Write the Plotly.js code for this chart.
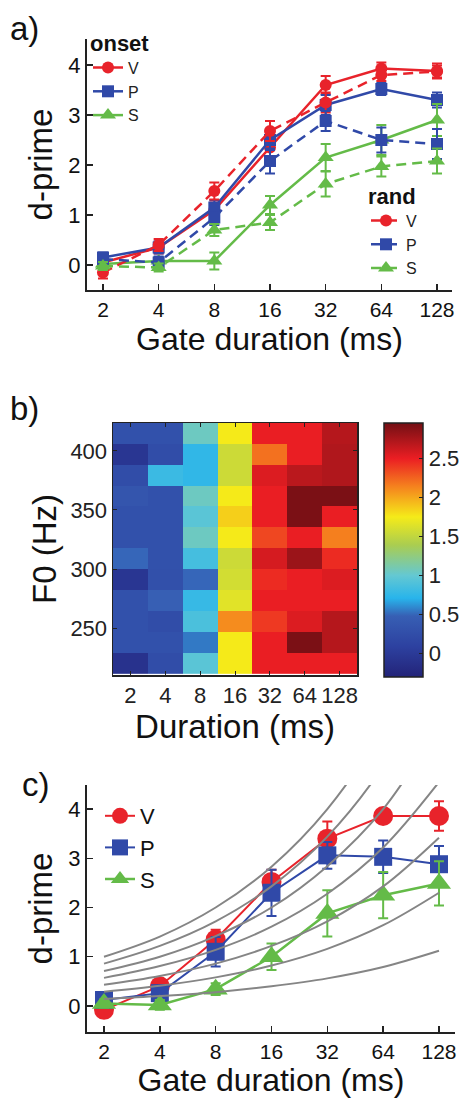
<!DOCTYPE html>
<html>
<head>
<meta charset="utf-8">
<script src="https://cdn.plot.ly/plotly-3.0.1.min.js"></script>
<style>
html,body{margin:0;padding:0;background:#fff;}
#chart{width:461px;height:1098px;}
</style>
</head>
<body>
<div id="chart"></div>
<script>
// ---------- data ----------
const durations = [2, 4, 8, 16, 32, 64, 128];
const durLabels = ['2', '4', '8', '16', '32', '64', '128'];

// panel a) onset / rand
const onsetV = [0.05, 0.35, 1.1, 2.35, 3.6, 3.93, 3.88];
const onsetVErr = [0.12, 0.12, 0.15, 0.2, 0.18, 0.12, 0.15];
const onsetP = [0.15, 0.35, 1.15, 2.5, 3.2, 3.52, 3.3];
const onsetPErr = [0.1, 0.12, 0.15, 0.2, 0.2, 0.12, 0.15];
const onsetS = [0.02, 0.08, 0.08, 1.2, 2.15, 2.5, 2.9];
const onsetSErr = [0.08, 0.08, 0.17, 0.18, 0.27, 0.3, 0.32];
const randV = [-0.15, 0.4, 1.48, 2.68, 3.25, 3.8, 3.87];
const randVErr = [0.12, 0.12, 0.17, 0.2, 0.2, 0.12, 0.12];
const randP = [0.12, 0.05, 0.95, 2.08, 2.88, 2.5, 2.42];
const randPErr = [0.1, 0.12, 0.15, 0.25, 0.2, 0.25, 0.3];
const randS = [-0.02, -0.05, 0.7, 0.85, 1.62, 1.97, 2.08];
const randSErr = [0.08, 0.08, 0.12, 0.15, 0.25, 0.2, 0.25];

// panel b) heatmap, F0 rows bottom -> top
const f0 = [220, 237.7, 255.5, 273.2, 290.9, 308.6, 326.4, 344.1, 361.8, 379.5, 397.3, 415];
const heat = [
  [-0.1, 0.25, 0.95, 1.75, 2.5, 2.5, 2.5],
  [0.3, 0.3, 0.55, 1.75, 2.5, 2.92, 2.7],
  [0.3, 0.25, 0.88, 2.1, 2.4, 2.55, 2.7],
  [0.3, 0.48, 0.78, 1.65, 2.5, 2.5, 2.5],
  [-0.05, 0.28, 0.5, 1.58, 2.45, 2.5, 2.55],
  [0.5, 0.3, 0.85, 1.55, 2.58, 2.8, 2.45],
  [0.3, 0.3, 1.05, 1.75, 2.35, 2.5, 2.15],
  [0.3, 0.3, 0.95, 1.85, 2.5, 2.92, 2.5],
  [0.35, 0.3, 1.05, 1.75, 2.5, 2.92, 2.92],
  [0.25, 0.8, 0.75, 1.55, 2.55, 2.68, 2.72],
  [-0.05, 0.25, 0.75, 1.55, 2.2, 2.5, 2.72],
  [0.3, 0.3, 1.05, 1.75, 2.5, 2.5, 2.7]
];
const cbTicks = [0, 0.5, 1, 1.5, 2, 2.5];

// panel c) pooled
const cV = [-0.08, 0.4, 1.35, 2.52, 3.4, 3.86, 3.86];
const cVErr = [0.1, 0.1, 0.2, 0.25, 0.35, 0.12, 0.3];
const cP = [0.12, 0.26, 1.1, 2.3, 3.06, 3.03, 2.88];
const cPErr = [0.12, 0.15, 0.3, 0.47, 0.27, 0.33, 0.37];
const cS = [0.05, 0.02, 0.34, 1.0, 1.88, 2.25, 2.49];
const cSErr = [0.08, 0.1, 0.12, 0.27, 0.47, 0.47, 0.45];
// gray reference curves (read at each duration)
const gray1 = [0.14, 0.2, 0.28, 0.4, 0.56, 0.79, 1.12];
const gray2 = [0.29, 0.41, 0.58, 0.82, 1.16, 1.64, 2.3];
const gray3 = [0.43, 0.61, 0.86, 1.22, 1.72, 2.43, 3.42];
const gray4 = [0.57, 0.81, 1.14, 1.61, 2.28, 3.22, 4.55];
const gray5 = [0.71, 1.0, 1.42, 2.0, 2.84, 4.0, 5.7];
const gray6 = [0.86, 1.22, 1.72, 2.43, 3.44, 4.87, 6.9];
const gray7 = [1.0, 1.41, 2.0, 2.83, 4.0, 5.66, 8.0];
const grayCurves = [gray1, gray2, gray3, gray4, gray5, gray6, gray7];
const dTicks = [0, 1, 2, 3, 4];

// ---------- styles ----------
const RED = '#E8232B', BLUE = '#3049A8', GREEN = '#64BB48', GRAY = '#858585';
const FONT = 'Liberation Sans, Arial, sans-serif';

function errObj(arr, col, w) {
  return {type: 'data', array: arr, visible: true, color: col, thickness: 2, width: w};
}
function lineTrace(y, err, name, col, sym, dash, xa, ya, leg, msize, lw, cap) {
  return {
    x: durations, y: y, name: name, type: 'scatter', mode: 'lines+markers',
    xaxis: xa, yaxis: ya, legend: leg,
    line: {color: col, width: lw, dash: dash},
    marker: {color: col, symbol: sym, size: msize},
    error_y: errObj(err, col, cap)
  };
}

const data = [
  lineTrace(onsetV, onsetVErr, 'V', RED, 'circle', 'solid', 'x', 'y', 'legend', 12, 2.5, 5),
  lineTrace(onsetP, onsetPErr, 'P', BLUE, 'square', 'solid', 'x', 'y', 'legend', 12, 2.5, 5),
  lineTrace(onsetS, onsetSErr, 'S', GREEN, 'triangle-up', 'solid', 'x', 'y', 'legend', 14, 2.5, 5),
  lineTrace(randV, randVErr, 'V', RED, 'circle', '10px,6px', 'x', 'y', 'legend2', 12, 2.5, 5),
  lineTrace(randP, randPErr, 'P', BLUE, 'square', '10px,6px', 'x', 'y', 'legend2', 12, 2.5, 5),
  lineTrace(randS, randSErr, 'S', GREEN, 'triangle-up', '10px,6px', 'x', 'y', 'legend2', 14, 2.5, 5),
  {
    type: 'heatmap', x: durLabels, y: f0, z: heat, xaxis: 'x2', yaxis: 'y2',
    zmin: -0.3, zmax: 2.95,
    colorscale: [
      [0, 'rgb(35,35,120)'], [0.12, 'rgb(45,65,160)'], [0.24, 'rgb(55,95,180)'],
      [0.31, 'rgb(40,180,235)'], [0.40, 'rgb(100,200,210)'], [0.52, 'rgb(170,205,80)'],
      [0.63, 'rgb(245,235,25)'], [0.75, 'rgb(245,130,30)'], [0.86, 'rgb(235,30,35)'],
      [1, 'rgb(115,15,20)']
    ],
    showscale: true,
    colorbar: {
      x: 384 / 461, xanchor: 'left', xpad: 0, ypad: 0,
      y: 1 - 677 / 1098, yanchor: 'bottom', len: 254 / 1098, lenmode: 'fraction',
      thickness: 39, thicknessmode: 'pixels',
      outlinecolor: '#222', outlinewidth: 1.5,
      tickvals: cbTicks, ticktext: cbTicks.map(String),
      ticks: 'inside', ticklen: 4, tickcolor: '#222',
      tickfont: {family: FONT, size: 22, color: '#222'}
    }
  },
  lineTrace(cV, cVErr, 'V', RED, 'circle', 'solid', 'x3', 'y3', 'legend3', 20, 2, 5),
  lineTrace(cP, cPErr, 'P', BLUE, 'square', 'solid', 'x3', 'y3', 'legend3', 18, 2, 5),
  lineTrace(cS, cSErr, 'S', GREEN, 'triangle-up', 'solid', 'x3', 'y3', 'legend3', 21, 2.5, 5)
];
grayCurves.forEach(function (g) {
  data.push({
    x: durations, y: g, type: 'scatter', mode: 'lines', xaxis: 'x3', yaxis: 'y3',
    line: {color: GRAY, width: 2, shape: 'spline'}, showlegend: false, hoverinfo: 'skip'
  });
});

const L2 = Math.log10(2);
function dAxisX(domain, lo, hi, standoff) {
  return {
    type: 'log', domain: domain, range: [lo, hi],
    tickvals: durations, ticktext: durLabels,
    ticks: 'inside', ticklen: 6, tickwidth: 1.5, tickcolor: '#222',
    showline: true, linecolor: '#222', linewidth: 2, mirror: false,
    showgrid: false, zeroline: false,
    tickfont: {family: FONT, size: 21, color: '#111'},
    title: {text: 'Gate duration (ms)', font: {family: FONT, size: 32, color: '#111'}, standoff: standoff}
  };
}
function dAxisY(domain, lo, hi, anchor) {
  return {
    domain: domain, range: [lo, hi], anchor: anchor,
    tickvals: dTicks, ticktext: dTicks.map(String),
    ticks: 'inside', ticklen: 6, tickwidth: 1.5, tickcolor: '#222',
    showline: true, linecolor: '#222', linewidth: 2, mirror: false,
    showgrid: false, zeroline: false,
    tickfont: {family: FONT, size: 22, color: '#111'},
    title: {text: 'd-prime', font: {family: FONT, size: 33, color: '#111'}, standoff: 6}
  };
}

const xa = dAxisX([87 / 461, 452 / 461], L2 - 0.2873 * L2, Math.log10(128) + 0.2693 * L2, 5);
xa.anchor = 'y';
const ya = dAxisY([1 - 290 / 1098, 1 - 39 / 1098], -0.5, 4.52, 'x');
const xc = dAxisX([87 / 461, 455 / 461], L2 - 0.3047 * L2, Math.log10(128) + 0.2867 * L2, 6);
xc.anchor = 'y3';
const yc = dAxisY([1 - 1032 / 1098, 1 - 785 / 1098], -0.53, 4.49, 'x3');

const layout = {
  width: 461, height: 1098,
  margin: {l: 0, r: 0, t: 0, b: 0, autoexpand: false},
  paper_bgcolor: '#fff', plot_bgcolor: 'rgba(0,0,0,0)',
  font: {family: FONT, color: '#111'},
  showlegend: true,
  xaxis: xa, yaxis: ya,
  xaxis2: {
    domain: [113 / 461, 357 / 461], anchor: 'y2', type: 'category',
    ticks: 'inside', ticklen: 4, tickcolor: '#222',
    showline: true, linecolor: '#222', linewidth: 1.5, mirror: 'ticks',
    showgrid: false, zeroline: false,
    tickfont: {family: FONT, size: 22, color: '#222'},
    title: {text: 'Duration (ms)', font: {family: FONT, size: 33, color: '#111'}, standoff: 4}
  },
  yaxis2: {
    domain: [1 - 675 / 1098, 1 - 423 / 1098], anchor: 'x2', range: [210.2, 423.7],
    tickvals: [250, 300, 350, 400],
    ticks: 'inside', ticklen: 4, tickcolor: '#222',
    showline: true, linecolor: '#222', linewidth: 1.5, mirror: 'ticks',
    showgrid: false, zeroline: false,
    tickfont: {family: FONT, size: 22, color: '#222'},
    title: {text: 'F0 (Hz)', font: {family: FONT, size: 33, color: '#111'}, standoff: 4}
  },
  xaxis3: xc, yaxis3: yc,
  legend: {
    x: 88 / 461, y: 1 - 22 / 1098, xanchor: 'left', yanchor: 'top',
    bgcolor: 'rgba(0,0,0,0)', borderwidth: 0,
    font: {family: FONT, size: 16, color: '#222'},
    title: {text: '<b>onset</b>', font: {family: FONT, size: 22, color: '#111'}, side: 'top'},
    tracegroupgap: 0
  },
  legend2: {
    x: 366 / 461, y: 1 - 175 / 1098, xanchor: 'left', yanchor: 'top',
    bgcolor: 'rgba(0,0,0,0)', borderwidth: 0,
    font: {family: FONT, size: 16, color: '#222'},
    title: {text: '<b>rand</b>', font: {family: FONT, size: 22, color: '#111'}, side: 'top'},
    tracegroupgap: 0
  },
  legend3: {
    x: 100 / 461, y: 1 - 795 / 1098, xanchor: 'left', yanchor: 'top',
    bgcolor: 'rgba(0,0,0,0)', borderwidth: 0,
    font: {family: FONT, size: 22, color: '#111'},
    tracegroupgap: 0
  },
  annotations: [
    {text: 'a)', xref: 'paper', yref: 'paper', x: 8 / 461, y: 1 - 29 / 1098, xanchor: 'left', yanchor: 'middle', showarrow: false, font: {family: FONT, size: 33, color: '#111'}},
    {text: 'b)', xref: 'paper', yref: 'paper', x: 8 / 461, y: 1 - 409 / 1098, xanchor: 'left', yanchor: 'middle', showarrow: false, font: {family: FONT, size: 33, color: '#111'}},
    {text: 'c)', xref: 'paper', yref: 'paper', x: 20 / 461, y: 1 - 784 / 1098, xanchor: 'left', yanchor: 'middle', showarrow: false, font: {family: FONT, size: 33, color: '#111'}}
  ]
};

Plotly.newPlot('chart', data, layout, {staticPlot: true, displayModeBar: false});
</script>
</body>
</html>
